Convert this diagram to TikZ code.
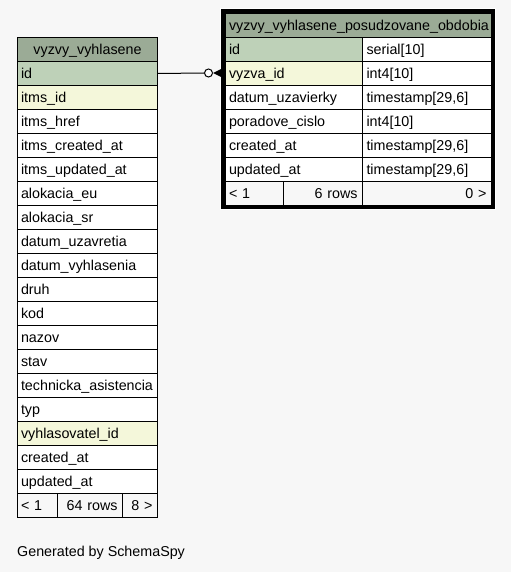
\documentclass[tikz,border=0pt]{standalone}
\usepackage{fontspec}
\setmainfont{Liberation Sans}
\definecolor{bg}{HTML}{F7F7F7}
\definecolor{hd}{HTML}{9BAB96}
\definecolor{pk}{HTML}{BED1B8}
\definecolor{fk}{HTML}{F4F7DA}
\definecolor{wh}{HTML}{FFFFFF}
\begin{document}
\begin{tikzpicture}[x=1pt,y=-1pt,
  font=\fontsize{14.3}{16}\selectfont,
  cell/.style={draw=black, line width=1pt, inner xsep=3.5pt, inner ysep=0pt,
    minimum height=24pt, text height=11.6pt, text depth=1pt,
    anchor=north west, align=left},
  rcell/.style={cell, align=right, inner xsep=5pt},
  hcell/.style={cell, fill=hd, align=center},
  ftcell/.style={fill=bg}]
\useasboundingbox (0,0) rectangle (511,572);
\fill[bg] (0,0) rectangle (511,572);
% left table
\node[hcell, minimum width=140pt] (lh) at (17,37) {vyzvy\_vyhlasene};
\foreach \t/\f [count=\i from 0] in {
  id/pk, itms\_id/fk, itms\_href/wh, itms\_created\_at/wh, itms\_updated\_at/wh,
  alokacia\_eu/wh, alokacia\_sr/wh, datum\_uzavretia/wh, datum\_vyhlasenia/wh,
  druh/wh, kod/wh, nazov/wh, stav/wh, technicka\_asistencia/wh, typ/wh,
  vyhlasovatel\_id/fk, created\_at/wh, updated\_at/wh}
  \node[cell, fill=\f, text width=133pt] (l\i) at (17,61+24*\i) {\t};
\node[cell, ftcell, text width=33pt] (lf1) at (17,493) {< 1};
\node[rcell, ftcell, text width=55pt] (lf2) at (57,493) {64 rows};
\node[rcell, ftcell, text width=25pt] (lf3) at (122,493) {8 >};
% right table
\draw[white, line width=1pt] (220.5,8.5) rectangle (495.5,209.5);
\node[hcell, minimum width=266pt] (rh) at (225,13) {vyzvy\_vyhlasene\_posudzovane\_obdobia};
\foreach \t/\f/\y [count=\i from 0] in {
  id/pk/serial[10], vyzva\_id/fk/int4[10], datum\_uzavierky/wh/{timestamp[29,6]},
  poradove\_cislo/wh/int4[10], created\_at/wh/{timestamp[29,6]}, updated\_at/wh/{timestamp[29,6]}}
  {
  \node[cell, fill=\f, text width=130pt] (r\i) at (225,37+24*\i) {\t};
  \node[cell, fill=wh, text width=122pt, inner xsep=4pt, text width=121pt] (t\i) at (362,37+24*\i) {\y};
  }
\node[cell, ftcell, text width=51pt] (rf1) at (225,181) {< 1};
\node[rcell, ftcell, text width=69pt] (rf2) at (283,181) {6 rows};
\node[rcell, ftcell, text width=119pt] (rf3) at (362,181) {0 >};
\draw[line width=4pt] (223,11) rectangle (493,207);
% connector
\node[circle, draw=black, line width=1pt, fill=white, minimum size=8pt, inner sep=0pt] (circ) at (208.5,73) {};
\coordinate (crowtip) at (213,73);
\draw[line width=1pt] (l0.east) -- (circ.west);
\draw[line width=1pt] (circ.east) -- (crowtip);
\fill (crowtip) -- (221,69) -- (221,77) -- cycle;
% caption
\node[anchor=base west, inner sep=0pt] (gen) at (17,556) {Generated by SchemaSpy};
\end{tikzpicture}
\end{document}
